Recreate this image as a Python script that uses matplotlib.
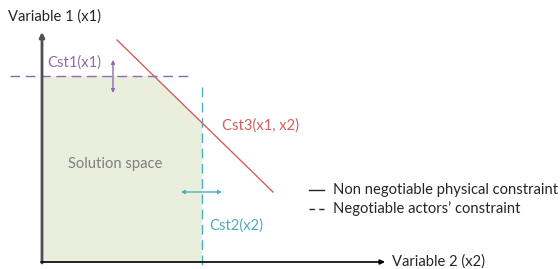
import matplotlib
matplotlib.use("Agg")
import matplotlib.pyplot as plt
from matplotlib.lines import Line2D

# Diagram geometry (pixel-like units, y downward)
origin = (42, 262)
y_axis_top = 32
x_axis_right = 385
cst1_y = 76            # negotiable constraint on x1
cst1_span = (10, 192)
cst2_x = 202           # negotiable constraint on x2
cst2_span = (87, 269)
cst3_p0 = (117, 40)    # physical constraint line x1+x2
cst3_p1 = (273, 192)

purple = "#8C6BB1"
cyan = "#4BACC6"
red = "#D0605E"
fill_col = "#EAEEDD"
gray_txt = "#7F7F7F"

plt.rcParams['font.family'] = ['Lato', 'DejaVu Sans']

fig = plt.figure(figsize=(5.6, 2.69), dpi=100)
ax = fig.add_axes([0, 0, 1, 1])
ax.set_xlim(0, 560)
ax.set_ylim(269, 0)
ax.axis('off')

# Solution space polygon
slope = (cst3_p1[1] - cst3_p0[1]) / (cst3_p1[0] - cst3_p0[0])
x_int = cst3_p0[0] + (cst1_y - cst3_p0[1]) / slope
y_int = cst3_p0[1] + (cst2_x - cst3_p0[0]) * slope
poly_x = [origin[0], origin[0], x_int, cst2_x, cst2_x]
poly_y = [origin[1], cst1_y, cst1_y, y_int, origin[1]]
ax.fill(poly_x, poly_y, color=fill_col, lw=0, zorder=1)

# Axes arrows
ax.annotate("", xy=(origin[0], y_axis_top), xytext=(origin[0], origin[1] + 1),
            arrowprops=dict(arrowstyle="-|>", color="#505050", lw=2.0,
                            mutation_scale=7, shrinkA=0, shrinkB=0), zorder=3)
ax.annotate("", xy=(x_axis_right, origin[1]), xytext=(origin[0] - 1, origin[1]),
            arrowprops=dict(arrowstyle="-|>", color="black", lw=1.2,
                            mutation_scale=7, shrinkA=0, shrinkB=0), zorder=3)

# Constraints
ax.plot(cst1_span, [cst1_y, cst1_y], ls=(0, (7, 4)), color=purple, lw=1, zorder=2)
ax.plot([cst2_x, cst2_x], cst2_span, ls=(0, (7, 4)), color=cyan, lw=1, zorder=2)
ax.plot([cst3_p0[0], cst3_p1[0]], [cst3_p0[1], cst3_p1[1]], color=red, lw=1, zorder=2)

# Double arrows
ax.annotate("", xy=(113, 60), xytext=(113, 93),
            arrowprops=dict(arrowstyle="<|-|>", color=purple, lw=1,
                            mutation_scale=5, shrinkA=0, shrinkB=0), zorder=3)
ax.annotate("", xy=(181, 192), xytext=(222, 192),
            arrowprops=dict(arrowstyle="<|-|>", color=cyan, lw=1,
                            mutation_scale=5, shrinkA=0, shrinkB=0), zorder=3)

# Texts
fs = 10.6
ax.text(8, 17, "Variable 1 (x1)", fontsize=fs, color="#262626", va="center", ha="left")
ax.text(392, 262, "Variable 2 (x2)", fontsize=fs, color="#262626", va="center", ha="left")
ax.text(47, 63, "Cst1(x1)", fontsize=fs, color=purple, va="center", ha="left")
ax.text(222, 126, "Cst3(x1, x2)", fontsize=fs, color=red, va="center", ha="left")
ax.text(209, 226, "Cst2(x2)", fontsize=fs, color=cyan, va="center", ha="left")
ax.text(68, 164, "Solution space", fontsize=fs, color=gray_txt, va="center", ha="left")

# Legend-like key
ax.add_line(Line2D([309, 324], [190, 190], color="#262626", lw=1))
ax.add_line(Line2D([309, 324], [209, 209], color="#262626", lw=1, ls=(0, (4, 3))))
ax.text(333, 190, "Non negotiable physical constraint", fontsize=fs, color="#262626",
        va="center", ha="left")
ax.text(333, 209, "Negotiable actors\u2019 constraint", fontsize=fs, color="#262626",
        va="center", ha="left")

fig.savefig("out.png", dpi=100)
